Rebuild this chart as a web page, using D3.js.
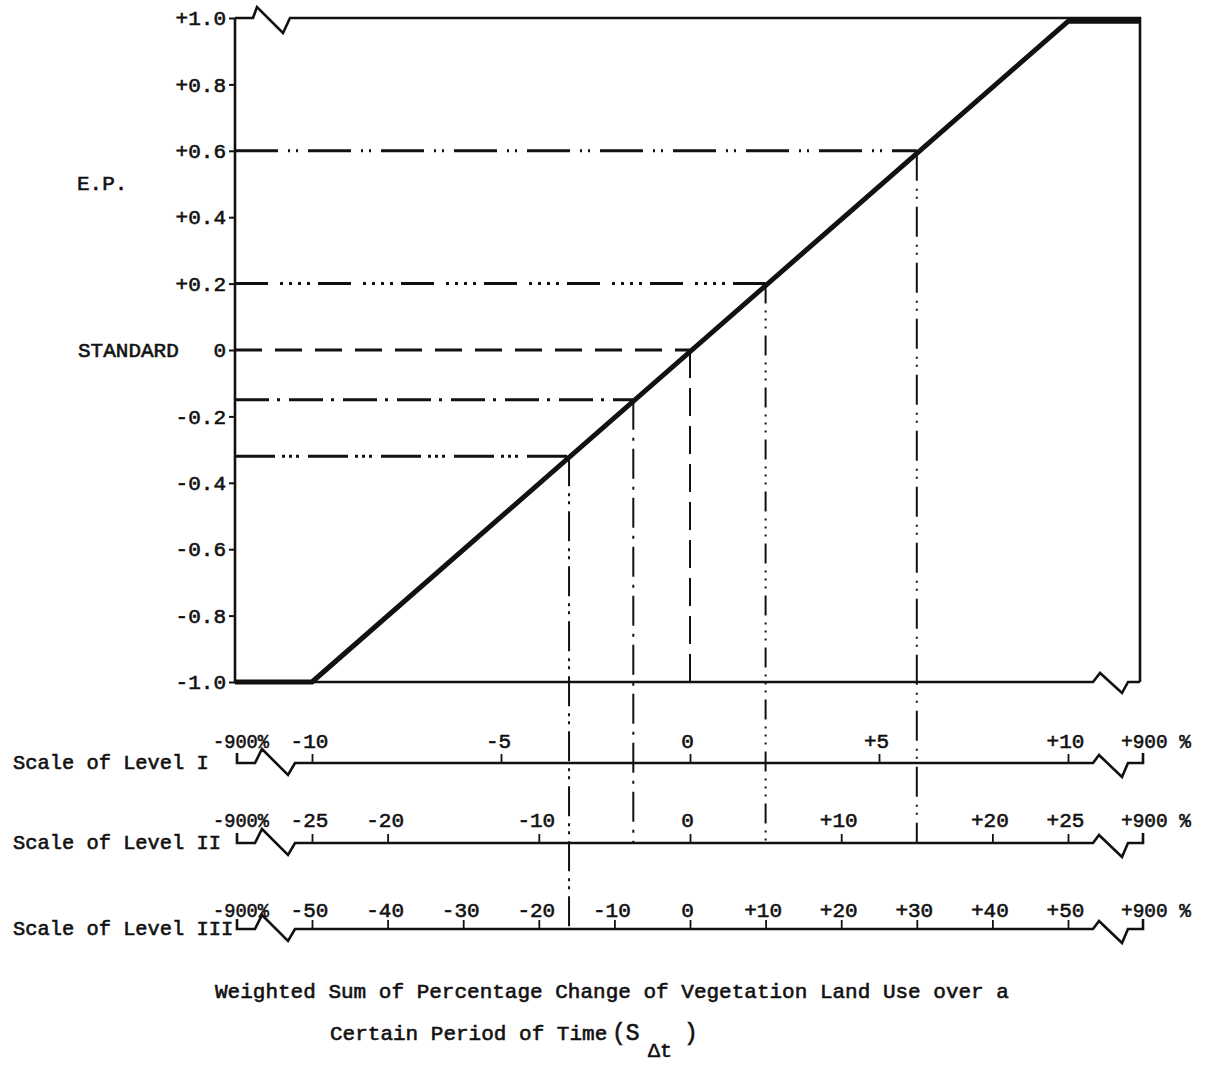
<!DOCTYPE html>
<html><head><meta charset="utf-8">
<script src="https://cdn.jsdelivr.net/npm/d3@7"></script>
<style>
html,body{margin:0;padding:0;background:#fff;}
svg text{font-family:"Liberation Mono","DejaVu Sans Mono",monospace;fill:#111;stroke:#111;stroke-width:0.6px;}
</style></head>
<body><svg id="chart" width="1207" height="1065"></svg>
<script>
// ---------------- data ----------------
const epTicks = [1.0, 0.8, 0.6, 0.4, 0.2, 0, -0.2, -0.4, -0.6, -0.8, -1.0];
const epTickLabels = ["+1.0", "+0.8", "+0.6", "+0.4", "+0.2", "0", "-0.2", "-0.4", "-0.6", "-0.8", "-1.0"];
const levelNames = ["Scale of Level I", "Scale of Level II", "Scale of Level III"];
const levelMax = [10, 25, 50];
const levelTicks = [
  [-10, -5, 0, 5, 10],
  [-25, -20, -10, 0, 10, 20, 25],
  [-50, -40, -30, -20, -10, 0, 10, 20, 30, 40, 50]
];
const levelTickLabels = [
  ["-10", "-5", "0", "+5", "+10"],
  ["-25", "-20", "-10", "0", "+10", "+20", "+25"],
  ["-50", "-40", "-30", "-20", "-10", "0", "+10", "+20", "+30", "+40", "+50"]
];
const levelEndLabels = ["-900%", "+900 %"];
const curveLevelI = [-900, -10, 10, 900];
const curveEP = [-1, -1, 0.99, 0.99];
const refEP = [0.6, 0.2, 0, -0.15, -0.32];
const refDropTo = [2, 2, 0, 2, 3]; // 0 = E.P. axis bottom, n = Scale of Level n
const yAxisTitle = "E.P.";
const standardLabel = "STANDARD";
const captionLine1 = "Weighted Sum of Percentage Change of Vegetation Land Use over a";
const captionLine2 = "Certain Period of Time";

// ---------------- layout / styles ----------------
const L = 235, R = 1140, T = 18, B = 682;
const rowY = [763, 843, 929];
const labelPad = [6, 7, 3];
const hDash = ["43,10,2,6,2,10", "33,12,3,6,3,6,3,6,3,8", "27,13", "34,8,3,9", "40,7,3,4,3,4,3,9"];
const vDash = ["30,8,2,6,2,8", "20,7,2,6,2,6,2,7", "28,10", "30,8,3,8", "30,7,3,5,3,7"];

const svg = d3.select("#chart");
const y = d3.scaleLinear().domain([-1, 1]).range([B, T]);
const epX = d3.scaleLinear().domain([-1, 1]).range([312, 1068]);
const levelScale = levelMax.map(m => d3.scaleLinear().domain([-900, -m, m, 900]).range([L, 312, 1068, R]));

const ink = "#111";

// frame (broken top and bottom)
svg.append("path")
  .attr("d", `M${L},${T} H253 L257,7 L283,33 L290,${T} H${R} V${B}`)
  .attr("fill", "none").attr("stroke", ink).attr("stroke-width", 2.6).attr("stroke-linejoin", "miter");
svg.append("path")
  .attr("d", `M${L},${T} V${B} H1093 L1100,673 L1122,693 L1128,${B} H${R}`)
  .attr("fill", "none").attr("stroke", ink).attr("stroke-width", 2.6);

// y axis
const yAxis = svg.append("g").attr("transform", `translate(${L},0)`)
  .call(d3.axisLeft(y).tickValues(epTicks).tickFormat((d, i) => epTickLabels[i]).tickSize(6).tickPadding(3));
yAxis.select(".domain").remove();
yAxis.selectAll("line").attr("stroke", ink).attr("stroke-width", 2);
yAxis.selectAll("text").attr("font-size", 21).attr("font-family", null);

svg.append("text").attr("x", 77).attr("y", 190).attr("font-size", 21).text(yAxisTitle);
svg.append("text").attr("x", 78).attr("y", y(0) + 7).attr("font-size", 21).text(standardLabel);

// reference lines
const refs = refEP.map((ep, i) => ({ep, drop: refDropTo[i], h: hDash[i], v: vDash[i]}));
svg.selectAll(".href").data(refs).join("line").attr("class", "href")
  .attr("x1", L).attr("x2", d => epX(d.ep))
  .attr("y1", d => y(d.ep)).attr("y2", d => y(d.ep))
  .attr("stroke", ink).attr("stroke-width", 3).attr("stroke-dasharray", d => d.h);
svg.selectAll(".vref").data(refs).join("line").attr("class", "vref")
  .attr("x1", d => epX(d.ep)).attr("x2", d => epX(d.ep))
  .attr("y1", d => y(d.ep)).attr("y2", d => d.drop === 0 ? B : rowY[d.drop - 1])
  .attr("stroke", ink).attr("stroke-width", 2).attr("stroke-dasharray", d => d.v);

// main curve
const curve = curveLevelI.map((s, i) => [s, curveEP[i]]);
svg.append("path").datum(curve)
  .attr("d", d3.line().x(d => levelScale[0](d[0])).y(d => y(d[1])))
  .attr("fill", "none").attr("stroke", ink).attr("stroke-width", 5).attr("stroke-linejoin", "round");

// level scales
levelNames.forEach((name, i) => {
  const g = svg.append("g").attr("transform", `translate(0,${rowY[i]})`);
  g.append("path")
    .attr("d", "M237,-10 V0 H255 L262,-14 L288,12 L295,0 H1093 L1099,-8 L1122,14 L1128,0 H1143 V-10")
    .attr("fill", "none").attr("stroke", ink).attr("stroke-width", 2.6);
  const ax = g.append("g")
    .call(d3.axisTop(levelScale[i]).tickValues(levelTicks[i])
      .tickFormat((d, j) => levelTickLabels[i][j]).tickSize(9).tickPadding(labelPad[i]));
  ax.select(".domain").remove();
  ax.selectAll("line").attr("stroke", ink).attr("stroke-width", 1.8);
  ax.selectAll("text").attr("font-size", 21).attr("font-family", null).attr("dx", -3);
  g.append("text").attr("x", 213).attr("y", -(9 + labelPad[i])).attr("font-size", 21)
    .attr("textLength", 56).attr("lengthAdjust", "spacingAndGlyphs").text(levelEndLabels[0]);
  g.append("text").attr("x", 1121).attr("y", -(9 + labelPad[i])).attr("font-size", 21)
    .attr("textLength", 70).attr("lengthAdjust", "spacingAndGlyphs").text(levelEndLabels[1]);
  g.append("text").attr("x", 13).attr("y", 6).attr("font-size", 20.4).text(name);
});

// caption
svg.append("text").attr("x", 215).attr("y", 998).attr("font-size", 21).text(captionLine1);
svg.append("text").attr("x", 330).attr("y", 1040).attr("font-size", 21).text(captionLine2);
svg.append("text").attr("x", 612).attr("y", 1040).attr("font-size", 23).text("(S");
svg.append("text").attr("x", 648).attr("y", 1057).attr("font-size", 20).text("Δt");
svg.append("text").attr("x", 684).attr("y", 1040).attr("font-size", 23).text(")");
</script>
</body></html>
